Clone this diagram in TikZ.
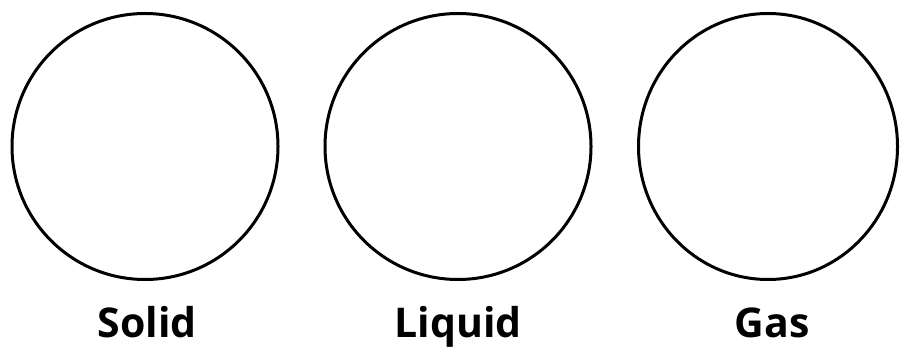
\documentclass[tikz,border=0pt]{standalone}
\usepackage{fontspec}
\setmainfont{Open Sans}
\usepackage{tikz}
\usetikzlibrary{positioning,shapes.geometric}

\begin{document}
\begin{tikzpicture}[
  x=1pt,y=-1pt,
  phase/.style={draw,line width=3pt,circle,inner sep=0pt,minimum size=266pt},
  lbl/.style={anchor=base,font=\fontsize{41}{44}\selectfont\bfseries}
]
\useasboundingbox (0,0) rectangle (901,347);
\node[phase] (solid) at (145,146.5) {};
\node[phase] (liquid) at (458,146.5) {};
\node[phase,ellipse,minimum width=259pt,minimum height=266pt] (gas) at (768,146.5) {};
\node[lbl] (solidlbl) at (147,337) {Solid};
\node[lbl] (liquidlbl) at (458,337) {Liquid};
\node[lbl] (gaslbl) at (772,337) {Gas};
\end{tikzpicture}
\end{document}
